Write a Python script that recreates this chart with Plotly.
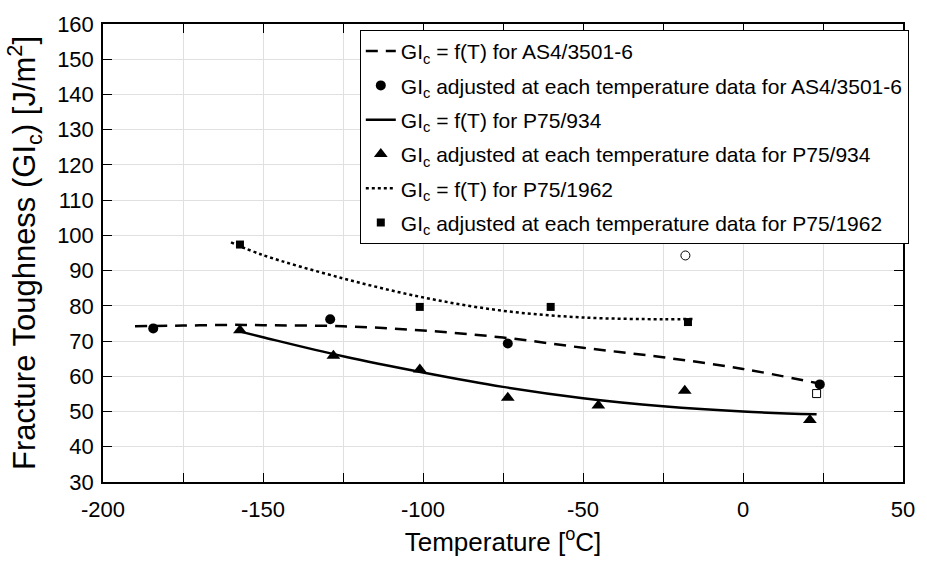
import plotly.graph_objects as go

# Fitted curves GIc = f(T), sampled along each curve
as4_fit_t = [-190, -175, -160, -150, -125, -100, -75, -50, -25, 0, 23]
as4_fit_g = [74.2, 74.4, 74.6, 74.5, 74.2, 73.0, 71.0, 68.1, 65.4, 62.1, 58.1]

p934_fit_t = [-158, -150, -125, -100, -75, -50, -25, 0, 23]
p934_fit_g = [72.9, 71.1, 65.7, 61.1, 57.0, 53.8, 51.5, 50.0, 49.2]

p1962_fit_t = [-160, -150, -125, -100, -75, -50, -25, -15.4]
p1962_fit_g = [98.0, 94.4, 87.8, 82.4, 78.6, 76.7, 76.2, 76.3]

# GIc adjusted at each test temperature
as4_t = [-184.3, -129, -73.5, 24]
as4_g = [73.6, 76.2, 69.3, 57.7]

p934_t = [-157.2, -128, -101, -73.5, -45.2, -18.2, 20.9]
p934_g = [73.1, 65.8, 61.9, 53.9, 51.7, 55.9, 47.6]

p1962_t = [-157.2, -101, -60.1, -17.2]
p1962_g = [97.4, 79.7, 79.7, 75.4]

# Excluded test points (open symbols)
excl_circle_t = [-18]
excl_circle_g = [94.3]
excl_square_t = [23]
excl_square_g = [55.1]

x_tick_vals = [-200, -175, -150, -125, -100, -75, -50, -25, 0, 25, 50]
x_tick_text = ["-200", "", "-150", "", "-100", "", "-50", "", "0", "", "50"]
y_tick_vals = [30, 40, 50, 60, 70, 80, 90, 100, 110, 120, 130, 140, 150, 160]

FONT = "Liberation Sans, Arial, sans-serif"
GIC = "GI<sub>c</sub>"

fig = go.Figure()

fig.add_trace(go.Scatter(
    x=as4_fit_t, y=as4_fit_g, mode="lines", line_shape="spline",
    line=dict(color="black", width=2.5, dash="12px,8px"), legendgroup="a",
    name=f"{GIC} = f(T) for AS4/3501-6"))
fig.add_trace(go.Scatter(
    x=as4_t, y=as4_g, mode="markers", legendgroup="b",
    marker=dict(symbol="circle", size=10, color="black"),
    name=f"{GIC} adjusted at each temperature data for AS4/3501-6"))
fig.add_trace(go.Scatter(
    x=p934_fit_t, y=p934_fit_g, mode="lines", line_shape="spline",
    line=dict(color="black", width=2.5), legendgroup="c",
    name=f"{GIC} = f(T) for P75/934"))
fig.add_trace(go.Scatter(
    x=p934_t, y=p934_g, mode="markers", legendgroup="d",
    marker=dict(symbol="triangle-up", size=12, color="black"),
    name=f"{GIC} adjusted at each temperature data for P75/934"))
fig.add_trace(go.Scatter(
    x=p1962_fit_t, y=p1962_fit_g, mode="lines", line_shape="spline",
    line=dict(color="black", width=2.5, dash="dot"), legendgroup="e",
    name=f"{GIC} = f(T) for P75/1962"))
fig.add_trace(go.Scatter(
    x=p1962_t, y=p1962_g, mode="markers", legendgroup="f",
    marker=dict(symbol="square", size=8, color="black"),
    name=f"{GIC} adjusted at each temperature data for P75/1962"))
fig.add_trace(go.Scatter(
    x=excl_circle_t, y=excl_circle_g, mode="markers", showlegend=False,
    marker=dict(symbol="circle-open", size=9, color="black", line=dict(width=1))))
fig.add_trace(go.Scatter(
    x=excl_square_t, y=excl_square_g, mode="markers", showlegend=False,
    marker=dict(symbol="square-open", size=8, color="black", line=dict(width=1))))

axis_common = dict(
    showline=True, linecolor="black", linewidth=1.5, mirror="allticks",
    ticks="inside", ticklen=9, tickwidth=1.3, tickcolor="black",
    showgrid=True, gridcolor="#e0e0e0", gridwidth=1, zeroline=False,
    tickfont=dict(family=FONT, size=22, color="black"),
)

fig.update_layout(
    width=927, height=564,
    margin=dict(l=103, r=15, t=14, b=82),
    paper_bgcolor="white", plot_bgcolor="white",
    font=dict(family=FONT, size=21, color="black"),
    xaxis=dict(range=[-200, 50], tickmode="array", tickvals=x_tick_vals,
               ticktext=x_tick_text, ticklabelstandoff=7,
               title=dict(text="Temperature [<sup>o</sup>C]", standoff=12,
                          font=dict(family=FONT, size=26)),
               **axis_common),
    yaxis=dict(range=[30, 160], tickmode="array", tickvals=y_tick_vals,
               ticklabelstandoff=3,
               title=dict(text=f"Fracture Toughness ({GIC}) [J/m<sup>2</sup>]",
                          standoff=12, font=dict(family=FONT, size=31)),
               **axis_common),
    legend=dict(x=0.321, y=0.987, xanchor="left", yanchor="top",
                bgcolor="white", bordercolor="black", borderwidth=1,
                font=dict(family=FONT, size=21), itemwidth=30,
                tracegroupgap=4),
    showlegend=True,
)

fig.write_html("out.html")
